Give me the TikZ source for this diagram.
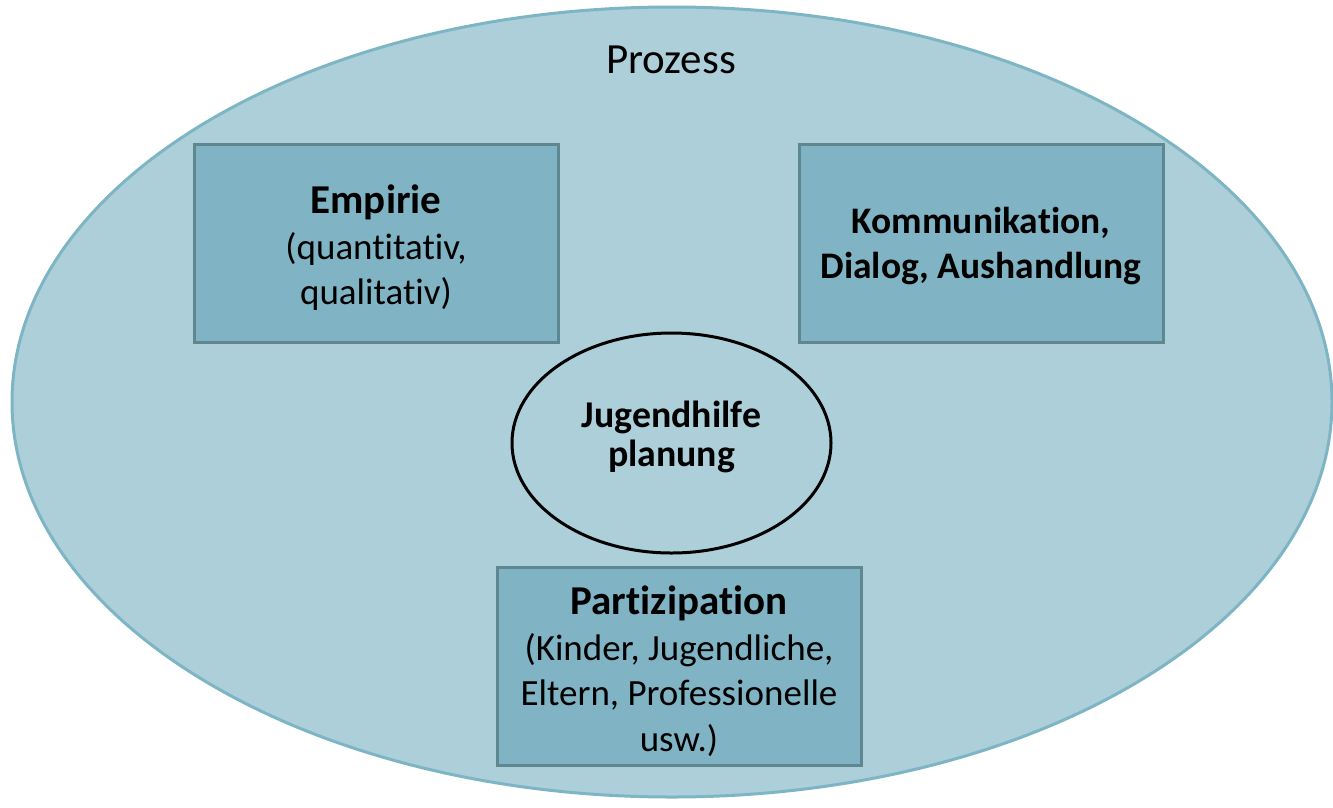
\documentclass[tikz,border=0pt]{standalone}
\usepackage{fontspec}
\setmainfont{Carlito}[Ligatures={NoCommon}]
\usetikzlibrary{shapes.geometric}
\definecolor{outerfill}{HTML}{ADCFD9}
\definecolor{outerline}{HTML}{7DB5C5}
\definecolor{boxfill}{HTML}{80B4C4}
\definecolor{boxline}{HTML}{5E8792}
\newcommand{\headfont}{\fontsize{41}{45.5}\selectfont\bfseries}
\tikzset{
  box/.style={draw=boxline, line width=3pt, fill=boxfill, minimum width=364pt, minimum height=198pt, inner sep=0pt},
  boxtext/.style={inner sep=0pt, align=center, font=\fontsize{37}{45.5}\selectfont},
}
\begin{document}
\begin{tikzpicture}[x=1pt,y=-1pt]
\useasboundingbox (0,0) rectangle (1333,807);
\node[ellipse, draw=outerline, line width=3pt, fill=outerfill, minimum width=1320pt, minimum height=790pt, inner sep=0pt] (outer) at (672,402) {};
\node[font=\fontsize{43}{45}\selectfont, anchor=base] (prozess) at (671,73) {Prozess};
\node[box] (empirie) at (376,243) {};
\node[boxtext] (empirietext) at ([yshift=-5pt]empirie.center) {{\headfont Empirie}\\(quantitativ,\\qualitativ)};
\node[box] (komm) at (981,243) {};
\node[boxtext, font=\fontsize{37.5}{45}\selectfont\bfseries] (kommtext) at ([yshift=-3pt]komm.center) {Kommunikation,\\Dialog, Aushandlung};
\node[box] (partiz) at (679,666) {};
\node[boxtext] (partiztext) at ([yshift=-5pt]partiz.center) {{\headfont Partizipation}\\(Kinder, Jugendliche,\\Eltern, Professionelle\\usw.)};
\node[ellipse, draw=black, line width=3pt, fill=outerfill, minimum width=319pt, minimum height=220pt, inner sep=0pt] (jhp) at (671.5,443) {};
\node[boxtext, font=\fontsize{37.8}{39}\selectfont\bfseries] (jhptext) at ([yshift=6pt]jhp.center) {Jugendhilfe\\planung};
\end{tikzpicture}
\end{document}
